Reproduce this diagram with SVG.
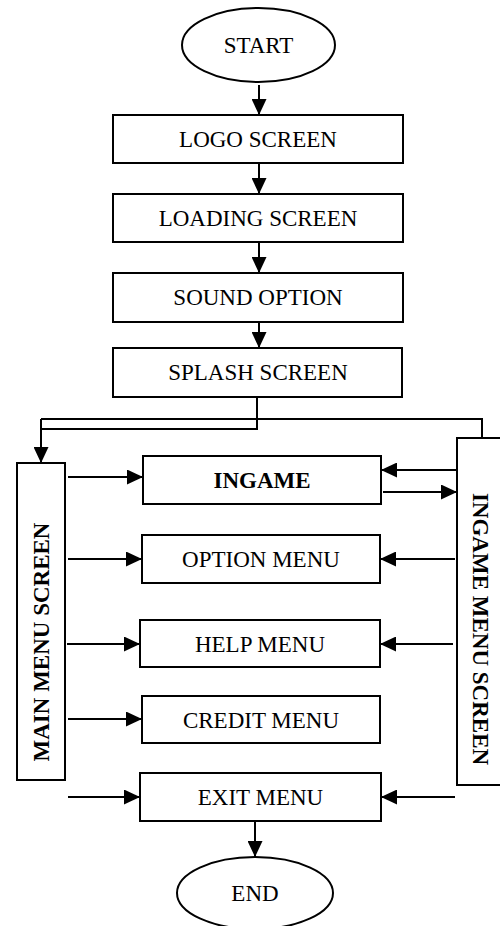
<svg xmlns="http://www.w3.org/2000/svg" width="500" height="926" viewBox="0 0 500 926">
<defs>
<marker id="ah" markerUnits="userSpaceOnUse" markerWidth="16" markerHeight="15" refX="16" refY="7.5" orient="auto">
<path d="M0,0 L16,7.5 L0,15 z" fill="#000"/>
</marker>
<style>
.box{fill:#fff;stroke:#000;stroke-width:2}
.t{font-family:"Liberation Serif","Times New Roman",serif;font-size:23px;fill:#000;text-anchor:middle}
.b{font-weight:bold}
.c{fill:none;stroke:#000;stroke-width:2}
.a{fill:none;stroke:#000;stroke-width:2;marker-end:url(#ah)}
</style>
</defs>
<rect width="500" height="926" fill="#fff"/>
<g id="connectors">
<path class="a" d="M259,85 V115"/>
<path class="a" d="M259,163 V194"/>
<path class="a" d="M259,242 V273"/>
<path class="a" d="M259,322 V348"/>
<path class="c" d="M482,438 V419 H41"/>
<path class="a" d="M41,419 V463"/>
<path class="c" d="M257,397 V429 H41"/>
<path class="a" d="M68,477 H143"/>
<path class="a" d="M457,470 H381"/>
<path class="a" d="M383,492 H457"/>
<path class="a" d="M68,559 H142"/>
<path class="a" d="M455,559 H380"/>
<path class="a" d="M67,644 H140"/>
<path class="a" d="M453,644 H380"/>
<path class="a" d="M68,719 H142"/>
<path class="a" d="M68,797 H140"/>
<path class="a" d="M455,797 H381"/>
<path class="a" d="M255,821 V857"/>
</g>
<g id="start"><ellipse class="box" cx="258.5" cy="45" rx="76.5" ry="37"/><text class="t" x="258.5" y="53">START</text></g>
<g id="logo"><rect class="box" x="113" y="115" width="290" height="48"/><text class="t" x="258" y="147">LOGO SCREEN</text></g>
<g id="loading"><rect class="box" x="113" y="194" width="290" height="48"/><text class="t" x="258" y="226">LOADING SCREEN</text></g>
<g id="sound"><rect class="box" x="113" y="273" width="290" height="49"/><text class="t" x="258" y="305">SOUND OPTION</text></g>
<g id="splash"><rect class="box" x="113" y="348" width="289" height="49"/><text class="t" x="258" y="380">SPLASH SCREEN</text></g>
<g id="mainmenu"><rect class="box" x="17" y="463" width="48" height="317"/><text class="t b" transform="translate(49,642) rotate(-90)">MAIN MENU SCREEN</text></g>
<g id="ingamemenu"><rect class="box" x="457" y="438" width="52" height="347"/><text class="t b" transform="translate(473,629) rotate(90)">INGAME MENU SCREEN</text></g>
<g id="ingame"><rect class="box" x="143" y="456" width="238" height="48"/><text class="t b" x="262" y="488">INGAME</text></g>
<g id="option"><rect class="box" x="142" y="535" width="238" height="48"/><text class="t" x="261" y="567">OPTION MENU</text></g>
<g id="help"><rect class="box" x="140" y="620" width="240" height="47"/><text class="t" x="260" y="652">HELP MENU</text></g>
<g id="credit"><rect class="box" x="142" y="696" width="238" height="47"/><text class="t" x="261" y="728">CREDIT MENU</text></g>
<g id="exit"><rect class="box" x="140" y="773" width="241" height="48"/><text class="t" x="260.5" y="805">EXIT MENU</text></g>
<g id="end"><ellipse class="box" cx="255" cy="893" rx="78" ry="36"/><text class="t" x="255" y="901">END</text></g>
</svg>
